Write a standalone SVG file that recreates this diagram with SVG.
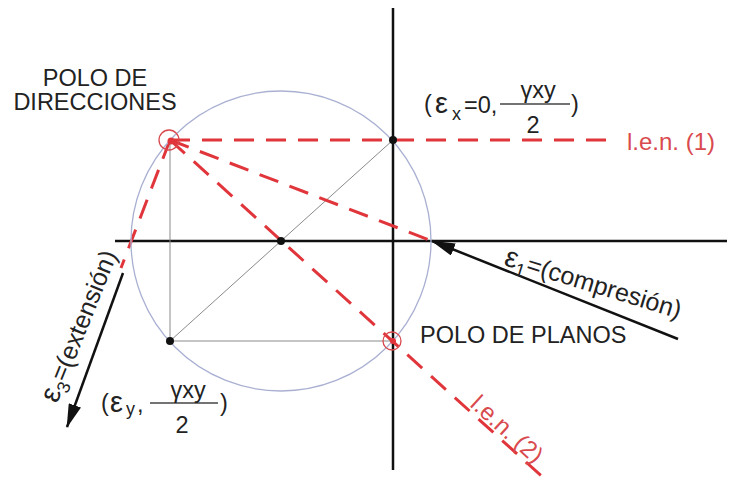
<svg xmlns="http://www.w3.org/2000/svg" width="731" height="493" viewBox="0 0 731 493">
<style>
.axis{stroke:#111;stroke-width:2.5;fill:none}
.thin{stroke:#8a8a8a;stroke-width:1;fill:none}
.circ{stroke:#aab0d2;stroke-width:1.3;fill:none}
.len{stroke:#e0353b;stroke-width:3;stroke-dasharray:20 12;fill:none}
.pole{stroke:#d8484d;stroke-width:1.3;fill:none}
.arrow{stroke:#111;stroke-width:2.5;fill:none;marker-end:url(#ah)}
.dot{fill:#111}
.lbl{font-family:"Liberation Sans",Arial,sans-serif;font-size:23.5px;fill:#222}
.rot{font-size:25px}
.eps{font-size:29px}
.sub{font-size:18px}
.red{font-family:"Liberation Sans",Arial,sans-serif;font-size:24px;fill:#d94a4e}
.bar{stroke:#444;stroke-width:1.5}
</style>
<defs>
<marker id="ah" markerUnits="userSpaceOnUse" markerWidth="24" markerHeight="13" refX="23" refY="6.5" orient="auto">
<path d="M0,0 L24,6.5 L0,13 z" fill="#111"/>
</marker>
</defs>
<g id="connectors">
<line class="axis" x1="115" y1="241" x2="727" y2="241"/>
<line class="axis" x1="393" y1="8" x2="393" y2="470"/>
<line class="thin" x1="170" y1="140" x2="170" y2="341"/>
<line class="thin" x1="170" y1="341" x2="393" y2="341"/>
<line class="thin" x1="170" y1="341" x2="393" y2="140"/>
<path class="len" d="M170,140 H612"/>
<path class="len" d="M170,140 L432,241"/>
<path class="len" d="M170,140 L547,481"/>
<path class="len" d="M170,140 L121,268"/>
<line class="arrow" x1="678" y1="339" x2="432" y2="241"/>
<line class="arrow" x1="123" y1="273" x2="67" y2="427"/>
</g>
<g id="mohr-circle"><circle class="circ" cx="281" cy="241" r="150"/></g>
<g id="center"><circle class="dot" cx="281" cy="241" r="4"/></g>
<g id="point-x">
<circle class="dot" cx="393" cy="140" r="4"/>
<text class="lbl" x="424" y="112">(</text>
<text class="lbl eps" x="435" y="113">ε</text>
<text class="lbl sub" x="452" y="120">x</text>
<text class="lbl" x="464" y="113">=0,</text>
<line class="bar" x1="500" y1="104" x2="570" y2="104"/>
<text class="lbl" x="538" y="98" text-anchor="middle">γxy</text>
<text class="lbl" x="533" y="133" text-anchor="middle">2</text>
<text class="lbl" x="571" y="112">)</text>
</g>
<g id="point-y">
<circle class="dot" cx="170" cy="341" r="4"/>
<text class="lbl" x="101" y="411">(</text>
<text class="lbl eps" x="110" y="412">ε</text>
<text class="lbl sub" x="126" y="415">y</text>
<text class="lbl" x="137" y="412">,</text>
<line class="bar" x1="150" y1="403" x2="218" y2="403"/>
<text class="lbl" x="188" y="398" text-anchor="middle">γxy</text>
<text class="lbl" x="182" y="433" text-anchor="middle">2</text>
<text class="lbl" x="220" y="411">)</text>
</g>
<g id="polo-direcciones">
<circle class="pole" cx="169" cy="140" r="10"/>
<circle cx="171" cy="141" r="3.5" fill="#e0353b"/>
<text class="lbl" text-anchor="middle"><tspan x="95" y="86">POLO DE</tspan><tspan x="95" y="110">DIRECCIONES</tspan></text>
</g>
<g id="polo-planos">
<circle class="pole" cx="392" cy="341" r="9"/>
<circle cx="393" cy="341" r="3" fill="#e0353b"/>
<text class="lbl" x="420" y="343">POLO DE PLANOS</text>
</g>
<g id="len1"><text class="red" x="627" y="150">l.e.n. (1)</text></g>
<g id="len2"><text class="red" transform="translate(170,140) rotate(42.2)" x="400" y="-4">l.e.n. (2)</text></g>
<g id="eps1">
<text class="lbl rot" transform="translate(503,265) rotate(17)"><tspan class="eps">ε</tspan><tspan class="sub" dy="6">1</tspan><tspan dy="-6">=(compresión)</tspan></text>
</g>
<g id="eps3">
<text class="lbl rot" transform="translate(57,404) rotate(-68)"><tspan class="eps">ε</tspan><tspan class="sub" dy="6">3</tspan><tspan dy="-6">=(extensión)</tspan></text>
</g>
</svg>
